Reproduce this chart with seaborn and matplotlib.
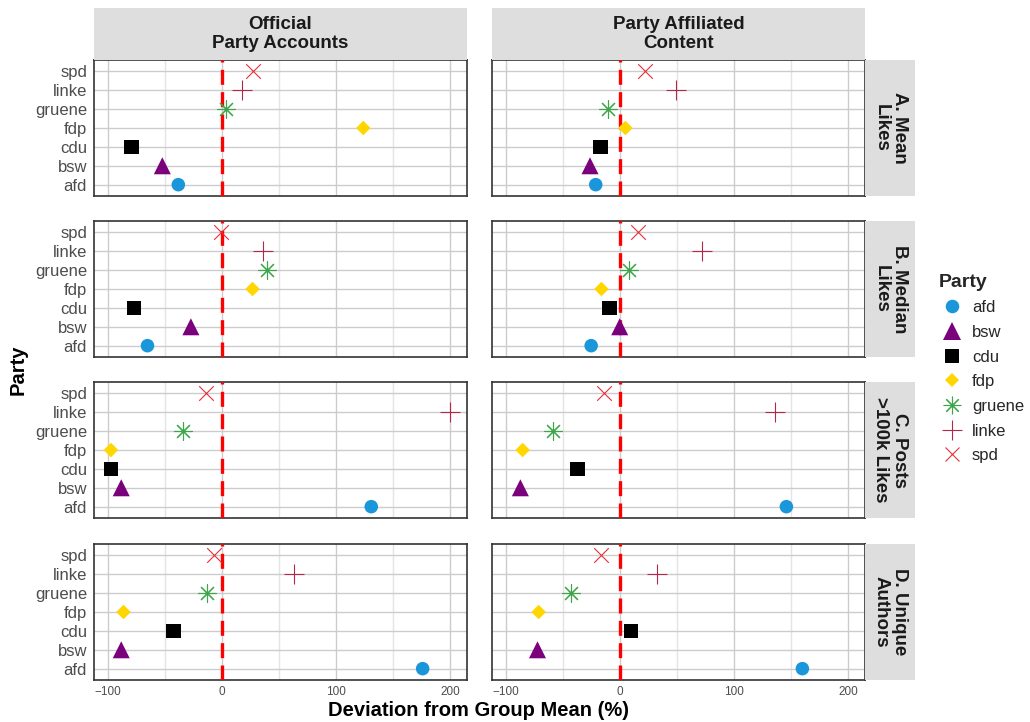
import matplotlib
matplotlib.use("Agg")
import matplotlib.pyplot as plt
from matplotlib.lines import Line2D
import seaborn as sns
import pandas as pd

# ---- data ----
parties = ["afd", "bsw", "cdu", "fdp", "gruene", "linke", "spd"]
sources = ["Official\nParty Accounts", "Party Affiliated\nContent"]
metrics = ["A. Mean\nLikes", "B. Median\nLikes", "C. Posts\n>100k Likes", "D. Unique\nAuthors"]

official_mean_likes = [-38, -52, -79, 124, 4, 18, 27]
affiliated_mean_likes = [-21, -26, -17, 5, -10, 49, 22]
official_median_likes = [-65, -27, -77, 27, 40, 36, -1]
affiliated_median_likes = [-25, 0, -9, -16, 8, 72, 16]
official_posts_100k = [131, -88, -97, -97, -34, 200, -14]
affiliated_posts_100k = [146, -87, -37, -85, -58, 136, -14]
official_unique_authors = [176, -88, -42, -86, -13, 63, -7]
affiliated_unique_authors = [160, -72, 10, -71, -43, 33, -16]

x_ticks = [-100, 0, 100, 200]
x_minor = [-50, 50, 150]

palette = {"afd": "#1A96DA", "bsw": "#7B007B", "cdu": "#000000", "fdp": "#FFD600",
           "gruene": "#3DA54A", "linke": "#B3284A", "spd": "#E3303A"}
markers = {"afd": "o", "bsw": "^", "cdu": "s", "fdp": "D",
           "gruene": (8, 2, 0), "linke": "+", "spd": "x"}
sizes = {"afd": 95, "bsw": 150, "cdu": 110, "fdp": 55,
         "gruene": 160, "linke": 210, "spd": 110}

panel_values = {
    (metrics[0], sources[0]): official_mean_likes,
    (metrics[0], sources[1]): affiliated_mean_likes,
    (metrics[1], sources[0]): official_median_likes,
    (metrics[1], sources[1]): affiliated_median_likes,
    (metrics[2], sources[0]): official_posts_100k,
    (metrics[2], sources[1]): affiliated_posts_100k,
    (metrics[3], sources[0]): official_unique_authors,
    (metrics[3], sources[1]): affiliated_unique_authors,
}

rows = []
for (m, s), vals in panel_values.items():
    for p, v in zip(parties, vals):
        rows.append({"metric": m, "source": s, "party": p, "value": v})
df = pd.DataFrame(rows)

sns.set_theme(style="white")
plt.rcParams["font.family"] = ["Liberation Sans", "DejaVu Sans"]

W, H = 1030, 722
fig = plt.figure(figsize=(W / 100, H / 100), dpi=100)

col_x = [94, 492]
panel_w = 373
row_y = [60, 221, 382, 544]
panel_h = 136

strip_bg = "#DEDEDE"
grid_col = "#CCCCCC"
grid_minor = "#E4E4E4"
text_dark = "#1A1A1A"
tick_col = "#4D4D4D"
line_lw = 0.8

xmin, xmax = -111.85, 214.85

for ri, m in enumerate(metrics):
    for ci, s in enumerate(sources):
        left = col_x[ci] / W
        bottom = 1 - (row_y[ri] + panel_h) / H
        ax = fig.add_axes([left, bottom, panel_w / W, panel_h / H])
        sub = df[(df.metric == m) & (df.source == s)]
        for p in parties:
            d = sub[sub.party == p]
            mk = markers[p]
            filled = mk in ("o", "^", "s", "D")
            sns.scatterplot(data=d, x="value", y="party", ax=ax,
                            color=palette[p], marker=mk, s=sizes[p],
                            edgecolor=palette[p] if not filled else "none",
                            linewidth=0 if filled else line_lw,
                            legend=False, zorder=4)
        ax.set_xlim(xmin, xmax)
        ax.set_ylim(-0.6, len(parties) - 0.4)
        # grid
        for xv in x_minor:
            ax.axvline(xv, color=grid_minor, lw=1.0, zorder=0)
        for xv in x_ticks:
            ax.axvline(xv, color=grid_col, lw=1.0, zorder=0)
        for yi in range(len(parties)):
            ax.axhline(yi, color=grid_col, lw=1.0, zorder=0)
        ax.axvline(0, color="#FF0000", lw=2.4, ls=(0, (4.5, 2.2)), zorder=3)
        ax.set_xticks(x_ticks)
        ax.set_xlabel("")
        ax.set_ylabel("")
        for sp in ax.spines.values():
            sp.set_color("#333333")
            sp.set_linewidth(1.2)
        ax.tick_params(axis="both", length=3, width=0.8, color="#333333")
        ax.tick_params(axis="y", labelsize=12, labelcolor=tick_col, pad=2)
        ax.tick_params(axis="x", labelsize=8.5, labelcolor=tick_col, pad=1.5)
        if ci != 0:
            ax.tick_params(axis="y", left=False, labelleft=False)
        if ri != len(metrics) - 1:
            ax.tick_params(axis="x", bottom=False, labelbottom=False)
        # top strips
        if ri == 0:
            sax = fig.add_axes([left, 1 - 60 / H, panel_w / W, 52 / H])
            sax.set_facecolor(strip_bg)
            sax.set_xticks([]); sax.set_yticks([])
            for sp in sax.spines.values():
                sp.set_visible(False)
            sax.text(0.5, 0.5, s, ha="center", va="center", fontsize=13.5,
                     fontweight="bold", color=text_dark, linespacing=1.1,
                     transform=sax.transAxes)
        # right strips
        if ci == 1:
            rax = fig.add_axes([865 / W, bottom, 50 / W, panel_h / H])
            rax.set_facecolor(strip_bg)
            rax.set_xticks([]); rax.set_yticks([])
            for sp in rax.spines.values():
                sp.set_visible(False)
            rax.text(0.5, 0.5, m, ha="center", va="center", fontsize=13.5,
                     fontweight="bold", color=text_dark, rotation=-90,
                     linespacing=1.1, transform=rax.transAxes)

fig.text(479 / W, 1 - 710 / H, "Deviation from Group Mean (%)", ha="center",
         va="center", fontsize=14.5, fontweight="bold", color="black")
fig.text(18 / W, 1 - 370 / H, "Party", ha="center", va="center", rotation=90,
         fontsize=14.5, fontweight="bold", color="black")

handles = []
for p in parties:
    mk = markers[p]
    filled = mk in ("o", "^", "s", "D")
    ms = (sizes[p]) ** 0.5
    handles.append(Line2D([], [], linestyle="none", marker=mk, color=palette[p],
                          markersize=ms, markeredgewidth=0 if filled else line_lw,
                          label=p))
leg = fig.legend(handles=handles, title="Party", loc="upper left",
                 bbox_to_anchor=(927 / W, 1 - 262 / H), frameon=False,
                 fontsize=12, title_fontsize=14, labelspacing=0.58,
                 handletextpad=0.4, borderpad=0.2, handlelength=1.6)
leg.get_title().set_fontweight("bold")
leg._legend_box.align = "left"

fig.savefig("out.png", dpi=100, facecolor="white")
